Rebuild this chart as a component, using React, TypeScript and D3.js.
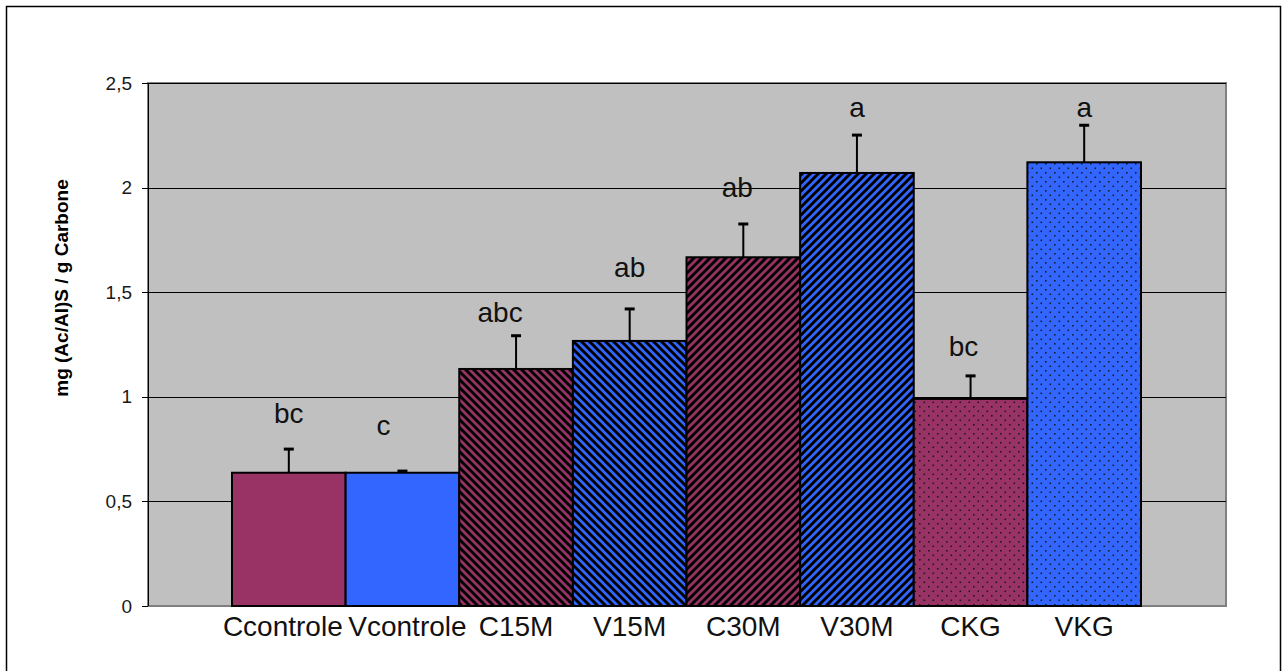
import React from "react";
import * as d3 from "d3";

const categories = ["Ccontrole", "Vcontrole", "C15M", "V15M", "C30M", "V30M", "CKG", "VKG"];
const means = [0.637, 0.637, 1.133, 1.267, 1.667, 2.07, 0.99, 2.121];
const errors = [0.113, 0.008, 0.159, 0.153, 0.159, 0.181, 0.11, 0.177];
const letters = ["bc", "c", "abc", "ab", "ab", "a", "bc", "a"];
const letterLevels = [0.875, 0.817, 1.357, 1.573, 1.955, 2.337, 1.195, 2.337];
const yTicks = [0, 0.5, 1, 1.5, 2, 2.5];
const yTickLabels = ["0", "0,5", "1", "1,5", "2", "2,5"];
const yTitle = "mg (Ac/Al)S / g Carbone";

const fills = ["plum", "blue", "plumDown", "blueDown", "plumUp", "blueUp", "plumDot", "blueDot"];
const letterDx = [0, -19, -16, 0, -6, 0, -7, 0];
const labelDx = [-6, 5, 0, 0, 0, 0, 0, 0];

const PLUM = "#993366";
const BLUE = "#3366FF";

export default function App() {
  const W = 1282, H = 671;
  const plot = { l: 148, t: 83, r: 1226, b: 606 };
  const y = d3.scaleLinear().domain([0, 2.5]).range([plot.b, plot.t]);
  const x = d3.scaleBand().domain(categories).range([232, 1141]).padding(0);
  const bw = x.bandwidth();

  const stripe = (id: string, color: string, down: boolean) => (
    <pattern id={id} patternUnits="userSpaceOnUse" width={8} height={8}>
      <rect width={8} height={8} fill={color} />
      {down ? (
        <path d="M-2,-2 L10,10 M-2,6 L2,10 M6,-2 L10,2" stroke="#000" strokeWidth={3} />
      ) : (
        <path d="M-2,10 L10,-2 M-2,2 L2,-2 M6,10 L10,6" stroke="#000" strokeWidth={3} />
      )}
    </pattern>
  );
  const dots = (id: string, color: string) => (
    <pattern id={id} patternUnits="userSpaceOnUse" width={9} height={9}>
      <rect width={9} height={9} fill={color} />
      <rect x={1} y={1} width={1.6} height={1.6} fill="#111" opacity={0.85} />
      <rect x={5.5} y={5.5} width={1.6} height={1.6} fill="#111" opacity={0.85} />
    </pattern>
  );

  const fillOf = (f: string) =>
    f === "plum" ? PLUM : f === "blue" ? BLUE : `url(#${f})`;

  return (
    <div style={{ position: "absolute", left: 0, top: 0 }}>
      <svg width={W} height={H} style={{ display: "block" }} fontFamily="'Liberation Sans', Arial, sans-serif">
        <defs>
          {stripe("plumDown", PLUM, true)}
          {stripe("blueDown", BLUE, true)}
          {stripe("plumUp", PLUM, false)}
          {stripe("blueUp", BLUE, false)}
          {dots("plumDot", PLUM)}
          {dots("blueDot", BLUE)}
        </defs>
        <rect x={0} y={0} width={W} height={H} fill="#fff" />
        <rect x={6.5} y={6.5} width={1274} height={720} fill="#fff" stroke="#000" strokeWidth={1.5} />
        <rect x={plot.l} y={plot.t} width={plot.r - plot.l} height={plot.b - plot.t} fill="#C0C0C0" stroke="#808080" strokeWidth={2} />
        {yTicks.map((t, i) => (
          <g key={i}>
            {t > 0 && (
              <line x1={plot.l} x2={plot.r} y1={Math.round(y(t)) + 0.5} y2={Math.round(y(t)) + 0.5} stroke="#000" strokeWidth={1} />
            )}
            <line x1={plot.l - 6} x2={plot.l} y1={Math.round(y(t)) + 0.5} y2={Math.round(y(t)) + 0.5} stroke="#000" strokeWidth={1} />
            <text x={132} y={y(t)} dy="0.35em" textAnchor="end" fontSize={19} fill="#1a1a1a">
              {yTickLabels[i]}
            </text>
          </g>
        ))}
        <line x1={plot.l + 0.5} x2={plot.l + 0.5} y1={plot.t} y2={plot.b} stroke="#000" strokeWidth={1} />
        {categories.map((c, i) => {
          const x0 = x(c)!;
          const cx = x0 + bw / 2;
          const top = y(means[i]);
          const et = y(means[i] + errors[i]);
          return (
            <g key={c}>
              <line x1={cx} x2={cx} y1={top} y2={et} stroke="#000" strokeWidth={2} />
              <line x1={cx - 5} x2={cx + 5} y1={et} y2={et} stroke="#000" strokeWidth={3} />
              <rect x={x0} y={top} width={bw} height={y(0) - top} fill={fillOf(fills[i])} stroke="#000" strokeWidth={2} />
              <text x={cx + letterDx[i]} y={y(letterLevels[i])} textAnchor="middle" fontSize={28} fill="#111">
                {letters[i]}
              </text>
              <text x={cx + labelDx[i]} y={636} textAnchor="middle" fontSize={28} fill="#111">
                {c}
              </text>
            </g>
          );
        })}
        <text
          transform={`translate(68, 288) rotate(-90)`}
          textAnchor="middle"
          fontSize={19}
          fontWeight="bold"
          fill="#000"
        >
          {yTitle}
        </text>
      </svg>
    </div>
  );
}
